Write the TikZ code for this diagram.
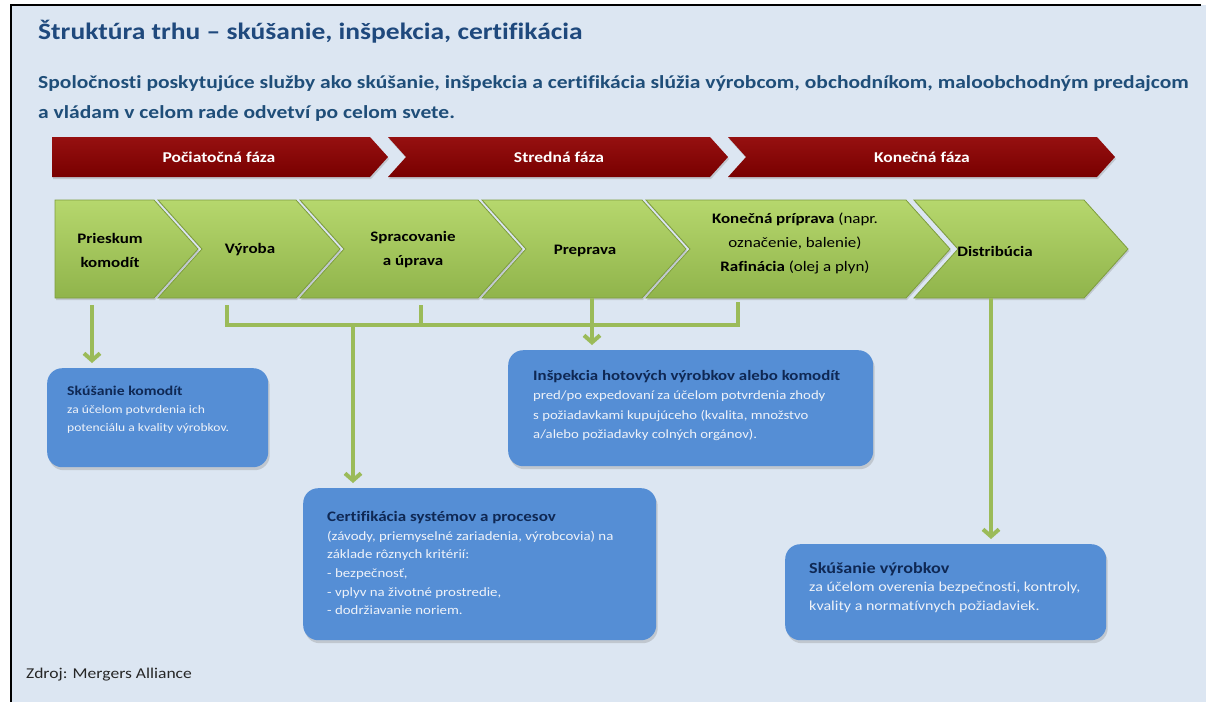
\documentclass[tikz,border=0pt]{standalone}
\usepackage{fontspec}
\setmainfont{Carlito}[FakeStretch=1.17, Ligatures=NoCommon]
\usetikzlibrary{arrows.meta,shadows}
\definecolor{bgblue}{HTML}{DCE6F2}
\definecolor{titleblue}{HTML}{1F497D}
\definecolor{subblue}{HTML}{1F4E79}
\definecolor{boxblue}{HTML}{558ED5}
\definecolor{boxnavy}{HTML}{0F2854}
\definecolor{boxtext}{HTML}{EEF2F9}
\definecolor{linegreen}{HTML}{9BBB59}
\definecolor{chevtop}{HTML}{B6D76D}
\definecolor{chevbot}{HTML}{90B44B}
\definecolor{chevedge}{HTML}{7E9D3E}
\definecolor{phasered}{HTML}{780000}
\definecolor{phaselight}{HTML}{961010}
\begin{document}
\begin{tikzpicture}[x=1pt, y=-1pt,
    phase/.style={top color=phaselight, bottom color=phasered, drop shadow={shadow xshift=1pt, shadow yshift=-2pt, opacity=0.3}},
    chev/.style={top color=chevtop, bottom color=chevbot, draw=chevedge, line width=0.8pt, drop shadow={shadow xshift=1pt, shadow yshift=-2pt, opacity=0.3}},
    phasetxt/.style={text=white, font=\fontsize{15}{18}\selectfont\bfseries},
    chevtxt/.style={align=center, font=\fontsize{14.5}{24}\selectfont\bfseries},
    box/.style={rectangle, rounded corners=15pt, fill=boxblue, anchor=north west, drop shadow={shadow xshift=1.5pt, shadow yshift=-3pt, opacity=0.3}},
    boxtxt/.style={anchor=north west, align=left, inner sep=0pt, text=boxtext},
    conn/.style={draw=linegreen, line width=4pt},
    arr/.style={-{Straight Barb[length=7pt, width=16pt]}, shorten >=5pt}
  ]
  \useasboundingbox (0,0) rectangle (1206,702);
  \fill[white] (0,0) rectangle (1206,702);
  \fill[bgblue] (10,5) rectangle (1206,702);
  \draw[line width=2pt] (10.5,702) -- (10.5,5) -- (1201,5);

  \node[anchor=base west, inner sep=0pt, text=titleblue, font=\fontsize{23.5}{28}\selectfont\bfseries] (title) at (38,39) {Štruktúra trhu – skúšanie, inšpekcia, certifikácia};
  \node[anchor=north west, inner sep=0pt, align=left, text=subblue, font=\fontsize{18.4}{30}\selectfont\bfseries] (sub) at (38,75) {Spoločnosti poskytujúce služby ako skúšanie, inšpekcia a certifikácia slúžia výrobcom, obchodníkom, maloobchodným predajcom\\a vládam v celom rade odvetví po celom svete.};

  \foreach \l/\t/\n in {52/388/0, 388/728/18, 728/1115/18}
    \path[phase] (\l,137) -- (\t-18,137) -- (\t,157) -- (\t-18,177) -- (\l,177) -- (\l+\n,157) -- cycle;
  \node[phasetxt] (p1) at (219,157) {Počiatočná fáza};
  \node[phasetxt] (p2) at (559,157) {Stredná fáza};
  \node[phasetxt] (p3) at (922,157) {Konečná fáza};

  \foreach \l/\t/\n in {55/198/0, 158/340/44, 300/522/44, 482/686/44, 646/950/44, 914/1128/44}
    \path[chev] (\l,200) -- (\t-44,200) -- (\t,249) -- (\t-44,298) -- (\l,298) -- (\l+\n,249) -- cycle;
  \node[chevtxt] (s1) at (110,250) {Prieskum\\komodít};
  \node[chevtxt] (s2) at (250,250) {Výroba};
  \node[chevtxt] (s3) at (413,250) {Spracovanie\\a úprava};
  \node[chevtxt] (s4) at (585,251) {Preprava};
  \node[chevtxt] (s5) at (795,243) {Konečná príprava {\mdseries (napr.}\\{\mdseries označenie, balenie)}\\Rafinácia {\mdseries (olej a plyn)}};
  \node[chevtxt] (s6) at (995,251) {Distribúcia};

  \node[box, minimum width=221pt, minimum height=99pt] (b1) at (47,368) {};
  \node[box, minimum width=365pt, minimum height=116pt] (b2) at (508,350) {};
  \node[box, minimum width=353pt, minimum height=152pt] (b3) at (303,488) {};
  \node[box, minimum width=321pt, minimum height=96pt] (b4) at (785,544) {};

  \node[boxtxt, font=\fontsize{11.6}{18}\selectfont] (t1) at (67,386) {{\color{boxnavy}\fontsize{13.4}{18}\selectfont\bfseries Skúšanie komodít}\\za účelom potvrdenia ich\\potenciálu a kvality výrobkov.};
  \node[boxtxt, font=\fontsize{12.6}{19.5}\selectfont] (t2) at (533,370) {{\color{boxnavy}\fontsize{14.4}{20}\selectfont\bfseries Inšpekcia hotových výrobkov alebo komodít}\\pred/po expedovaní za účelom potvrdenia zhody\\s požiadavkami kupujúceho (kvalita, množstvo\\a/alebo požiadavky colných orgánov).};
  \node[boxtxt, font=\fontsize{12.7}{18.7}\selectfont] (t3) at (327,511) {{\color{boxnavy}\fontsize{14.5}{19.5}\selectfont\bfseries Certifikácia systémov a procesov}\\(závody, priemyselné zariadenia, výrobcovia) na\\základe rôznych kritérií:\\- bezpečnosť,\\- vplyv na životné prostredie,\\- dodržiavanie noriem.};
  \node[boxtxt, font=\fontsize{13.7}{18.5}\selectfont] (t4) at (809,562) {{\color{boxnavy}\fontsize{15.5}{21}\selectfont\bfseries Skúšanie výrobkov}\\za účelom overenia bezpečnosti, kontroly,\\kvality a normatívnych požiadaviek.};

  \coordinate (c1) at (92,305);
  \coordinate (k1) at (227,305);
  \coordinate (k2) at (421,305);
  \coordinate (k3) at (738,302);
  \coordinate (h2) at (421,325);
  \coordinate (h3) at (738,325);
  \coordinate (hm) at (353,325);
  \coordinate (c4) at (592,298);
  \coordinate (c6) at (991,298);
  \draw[conn] (k1) |- (h3) -- (k3);
  \draw[conn] (k2) -- (h2);
  \draw[conn, arr] (c1) -- (c1 |- b1.north);
  \draw[conn, arr] (hm) -- (hm |- b3.north);
  \draw[conn, arr] (c4) -- (c4 |- b2.north);
  \draw[conn, arr] (c6) -- (c6 |- b4.north);

  \node[anchor=base west, inner sep=0pt, text=black!85, font=\fontsize{15}{18}\selectfont] (src) at (26,678) {Zdroj: Mergers Alliance};
\end{tikzpicture}
\end{document}
